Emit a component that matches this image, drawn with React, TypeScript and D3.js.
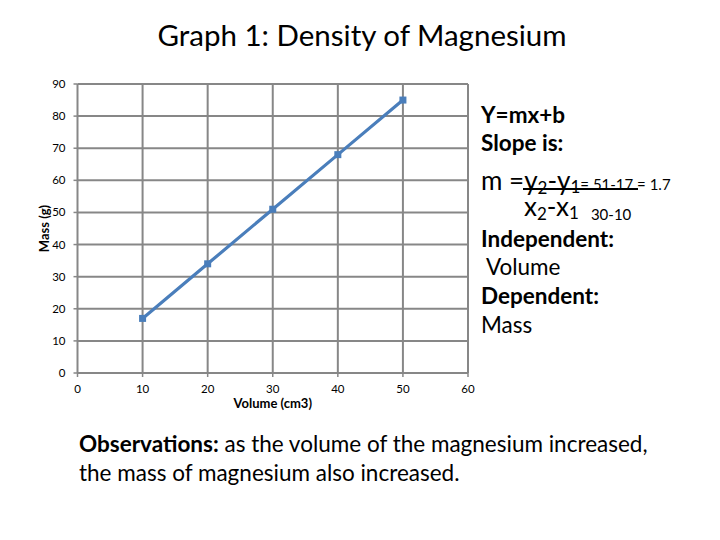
import { useEffect, useRef } from "react";
import * as d3 from "d3";

// data
const volumes = [10, 20, 30, 40, 50];
const masses = [17, 34, 51, 68, 85];
const xTicks = [0, 10, 20, 30, 40, 50, 60];
const yTicks = [0, 10, 20, 30, 40, 50, 60, 70, 80, 90];

const FONT = "Lato, 'Open Sans', sans-serif";

const App: React.FC = () => {
  const svgRef = useRef<SVGSVGElement | null>(null);

  useEffect(() => {
    if (!svgRef.current) return;
    const svg = d3.select(svgRef.current);
    svg.selectAll("*").remove();

    const width = 720;
    const height = 540;
    const margin = { top: 84, left: 77.5, right: 252, bottom: 167 };
    const plotW = width - margin.left - margin.right;
    const plotH = height - margin.top - margin.bottom;

    svg.append("rect").attr("width", width).attr("height", height).attr("fill", "#fff");

    // title
    svg.append("text")
      .attr("x", 362).attr("y", 46)
      .attr("text-anchor", "middle")
      .style("font-family", FONT).style("font-size", "29.5px").attr("fill", "#000")
      .text("Graph 1: Density of Magnesium");

    const x = d3.scaleLinear().domain([0, 60]).range([0, plotW]);
    const y = d3.scaleLinear().domain([0, 90]).range([plotH, 0]);

    const g = svg.append("g").attr("transform", `translate(${margin.left},${margin.top})`);

    // gridlines
    g.append("g")
      .selectAll("line")
      .data(yTicks)
      .enter().append("line")
      .attr("x1", 0).attr("x2", plotW)
      .attr("y1", d => y(d)).attr("y2", d => y(d))
      .attr("stroke", "#878787").attr("stroke-width", 2);

    g.append("g")
      .selectAll("line")
      .data(xTicks)
      .enter().append("line")
      .attr("x1", d => x(d)).attr("x2", d => x(d))
      .attr("y1", 0).attr("y2", plotH)
      .attr("stroke", "#878787").attr("stroke-width", 2);

    // small tick marks at the axes
    g.append("g").selectAll("line").data(yTicks).enter().append("line")
      .attr("x1", -4).attr("x2", 0).attr("y1", d => y(d)).attr("y2", d => y(d))
      .attr("stroke", "#878787").attr("stroke-width", 1.5);
    g.append("g").selectAll("line").data(xTicks).enter().append("line")
      .attr("x1", d => x(d)).attr("x2", d => x(d)).attr("y1", plotH).attr("y2", plotH + 4)
      .attr("stroke", "#878787").attr("stroke-width", 1.5);

    // tick labels
    g.append("g").selectAll("text").data(yTicks).enter().append("text")
      .attr("x", -12).attr("y", d => y(d) + 4)
      .attr("text-anchor", "end")
      .style("font-family", FONT).style("font-size", "11.5px").attr("fill", "#000")
      .text(d => d);
    g.append("g").selectAll("text").data(xTicks).enter().append("text")
      .attr("x", d => x(d)).attr("y", plotH + 20)
      .attr("text-anchor", "middle")
      .style("font-family", FONT).style("font-size", "11.5px").attr("fill", "#000")
      .text(d => d);

    // axis titles
    g.append("text")
      .attr("x", x(30)).attr("y", plotH + 35)
      .attr("text-anchor", "middle")
      .style("font-family", FONT).style("font-size", "13px").style("font-weight", "bold")
      .text("Volume (cm3)");
    svg.append("text")
      .attr("transform", `translate(49,${margin.top + y(45)}) rotate(-90)`)
      .attr("text-anchor", "middle")
      .style("font-family", FONT).style("font-size", "13px").style("font-weight", "bold")
      .text("Mass (g)");

    // series
    const pts = volumes.map((v, i) => [v, masses[i]] as [number, number]);
    const line = d3.line<[number, number]>().x(d => x(d[0])).y(d => y(d[1]));
    g.append("path")
      .datum(pts)
      .attr("d", line)
      .attr("fill", "none")
      .attr("stroke", "#4a7ebb")
      .attr("stroke-width", 3.2);
    g.append("g").selectAll("rect").data(pts).enter().append("rect")
      .attr("x", d => x(d[0]) - 3.5).attr("y", d => y(d[1]) - 3.5)
      .attr("width", 7).attr("height", 7)
      .attr("fill", "#4a7ebb");

    // right-side notes
    const notes = svg.append("g").style("font-family", FONT).attr("fill", "#000");
    notes.append("text").attr("x", 481).attr("y", 123)
      .style("font-size", "22.5px").style("font-weight", "bold").text("Y=mx+b");
    notes.append("text").attr("x", 481).attr("y", 151)
      .style("font-size", "22.5px").style("font-weight", "bold").text("Slope is:");

    const num = notes.append("text").attr("x", 481).attr("y", 190).style("font-size", "26px");
    num.append("tspan").text("m =");
    num.append("tspan").text("y");
    num.append("tspan").attr("dy", 4).style("font-size", "17px").text("2");
    num.append("tspan").attr("dy", -4).text("-y");
    num.append("tspan").attr("dy", 3).style("font-size", "17px").text("1");
    num.append("tspan").attr("dy", -3).style("font-size", "15px").text("= 51-17 = 1.7");
    notes.append("line")
      .attr("x1", 523).attr("x2", 638).attr("y1", 189).attr("y2", 189)
      .attr("stroke", "#000").attr("stroke-width", 2);

    const den = notes.append("text").attr("x", 524).attr("y", 216).style("font-size", "26px");
    den.append("tspan").text("x");
    den.append("tspan").attr("dy", 4).style("font-size", "17px").text("2");
    den.append("tspan").attr("dy", -4).text("-x");
    den.append("tspan").attr("dy", 3).style("font-size", "17px").text("1");
    den.append("tspan").attr("dx", 12).attr("dy", 1).style("font-size", "15px").text("30-10");

    notes.append("text").attr("x", 481).attr("y", 247)
      .style("font-size", "22.5px").style("font-weight", "bold").text("Independent:");
    notes.append("text").attr("x", 481).attr("y", 275)
      .style("font-size", "22.5px").text("\u00a0Volume");
    notes.append("text").attr("x", 481).attr("y", 304)
      .style("font-size", "22.5px").style("font-weight", "bold").text("Dependent:");
    notes.append("text").attr("x", 481).attr("y", 333)
      .style("font-size", "22.5px").text("Mass");

    // observations
    const obs = svg.append("g").style("font-family", FONT).style("font-size", "22.5px").attr("fill", "#000");
    const l1 = obs.append("text").attr("x", 79).attr("y", 452);
    l1.append("tspan").style("font-weight", "bold").text("Observations:");
    l1.append("tspan").text(" as the volume of the magnesium increased,");
    obs.append("text").attr("x", 79).attr("y", 481)
      .text("the mass of magnesium also increased.");
  }, []);

  return (
    <div style={{ margin: "-8px" }}>
      <svg ref={svgRef} width={720} height={540} style={{ display: "block" }} />
    </div>
  );
};

export default App;
